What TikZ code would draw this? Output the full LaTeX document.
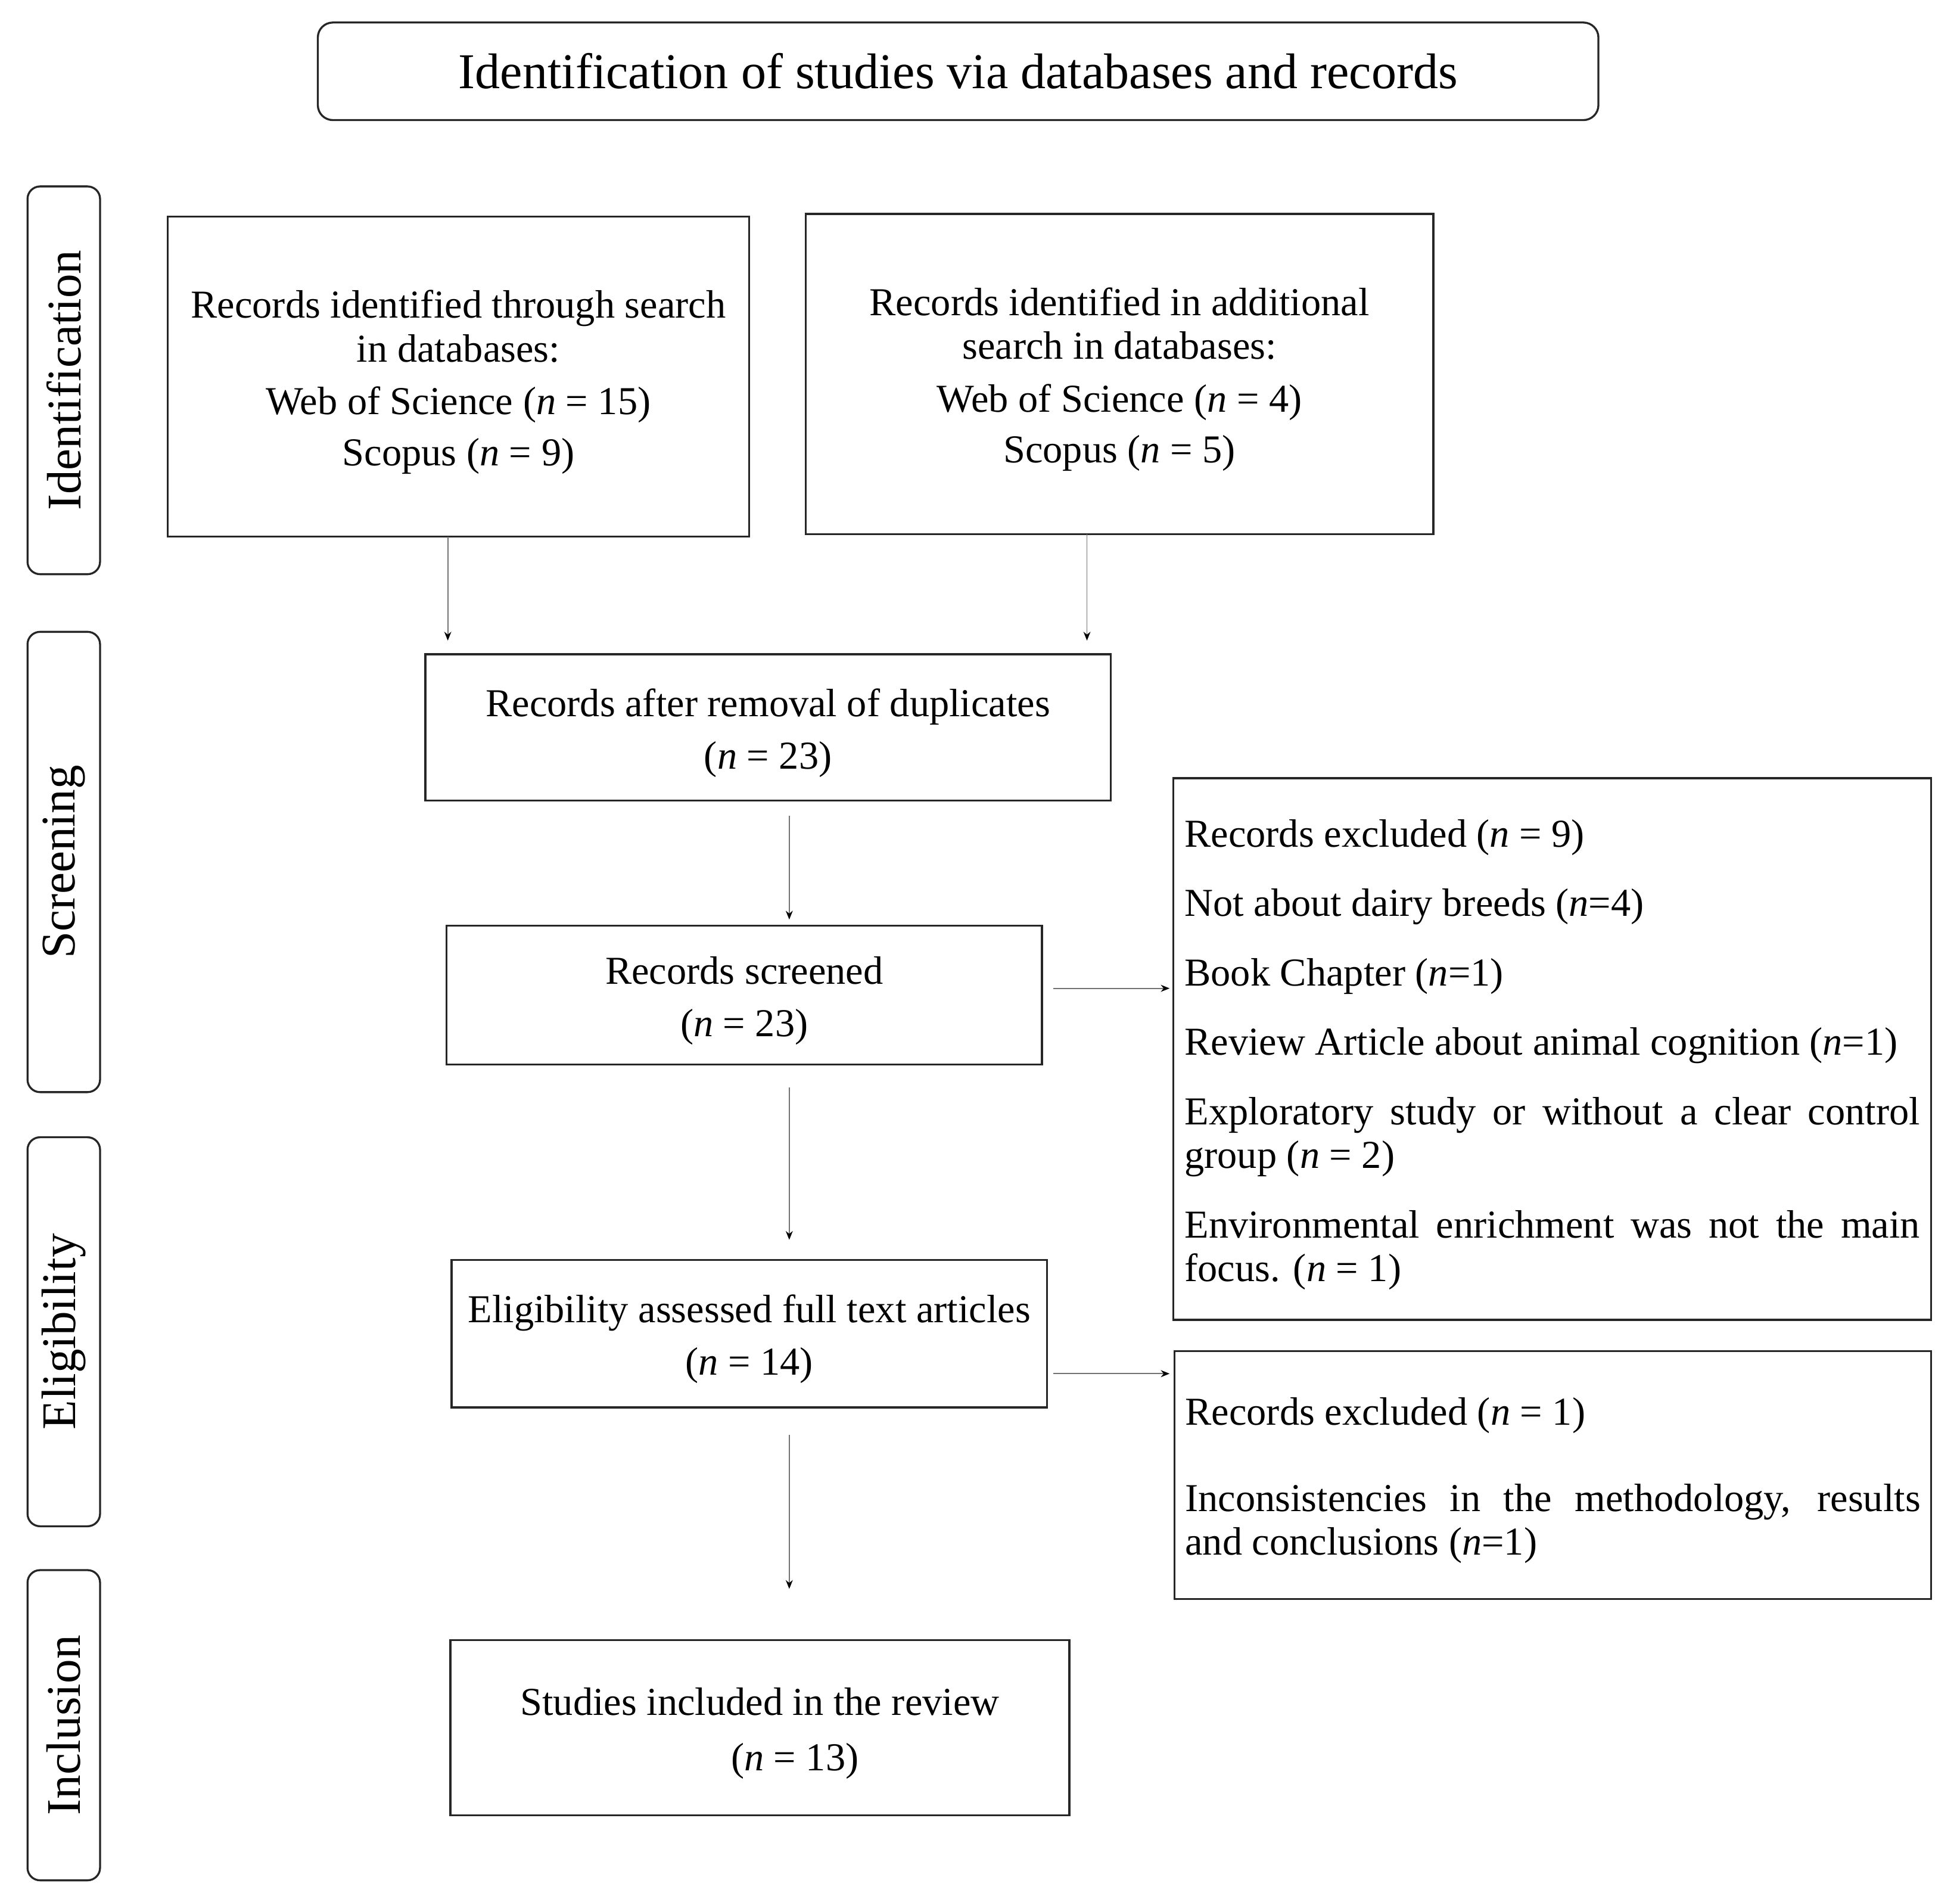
\documentclass[tikz,border=0pt]{standalone}
\usepackage{fontspec}
\setmainfont{Liberation Serif}
\usetikzlibrary{arrows.meta,calc}
\newcommand\tstrut{\rule{0pt}{0.62cm}}
\begin{document}
\begin{tikzpicture}[x=0.02cm,y=-0.02cm,
  box/.style={draw=black!85,line width=0.9pt,inner sep=0pt,outer sep=0pt,align=center,
    font=\fontsize{18}{19.9}\selectfont},
  listbox/.style={draw=black!85,line width=0.9pt,inner ysep=0pt,outer sep=0pt,align=justify,
    text width=11.76cm,font=\fontsize{18}{19.9}\selectfont},
  sidebox/.style={draw=black!85,line width=0.9pt,rounded corners=0.2cm,minimum height=1.16cm,
    inner sep=0pt,outer sep=0pt,rotate=90,font=\fontsize{22}{26}\selectfont},
  titlebox/.style={draw=black!85,line width=0.9pt,rounded corners=0.24cm,inner sep=0pt,outer sep=0pt,
    font=\fontsize{22.8}{27}\selectfont},
  arr/.style={draw=black!55,line width=0.5pt,-{Stealth[length=4pt,width=3.2pt,color=black]}}]
\useasboundingbox (0,0) rectangle (1567,1520);

% title
\node[titlebox,minimum width=20.48cm,minimum height=1.56cm] (T) at (766,57)
  {Identification of studies via databases and records};

% side labels
\node[sidebox,minimum width=6.2cm] (S1) at (51,304) {Identification};
\node[sidebox,minimum width=7.36cm] (S2) at (51,689) {Screening};
\node[sidebox,minimum width=6.22cm] (S3) at (51,1064.5) {Eligibility};
\node[sidebox,minimum width=4.96cm] (S4) at (51,1379) {Inclusion};

% boxes
\node[box,minimum width=9.3cm,minimum height=5.12cm] (A) at (366.5,301)
  {\tstrut Records identified through search\\ in databases:\\[4pt]
   Web of Science (\textit{n} = 15)\\[3.4pt] Scopus (\textit{n} = 9)};
\node[box,minimum width=10.04cm,minimum height=5.12cm] (B) at (895,299)
  {\tstrut Records identified in additional\\ search in databases:\\[4pt]
   Web of Science (\textit{n} = 4)\\[3.4pt] Scopus (\textit{n} = 5)};
\node[box,minimum width=10.96cm,minimum height=2.34cm] (C) at (614,581.5)
  {\tstrut Records after removal of duplicates\\[4pt] (\textit{n} = 23)};
\node[box,minimum width=9.52cm,minimum height=2.22cm] (D) at (595,795.5)
  {\tstrut Records screened\\[4pt] (\textit{n} = 23)};
\node[listbox,inner xsep=0.18cm,minimum height=8.66cm] (E) at (1241,838.5)
  {\setlength{\parskip}{11.7pt}\tstrut Records excluded (\textit{n} = 9)\par
   Not about dairy breeds (\textit{n}=4)\par
   Book Chapter (\textit{n}=1)\par
   Review Article about animal cognition (\textit{n}=1)\par
   Exploratory study or without a clear control\linebreak group (\textit{n} = 2)\par
   Environmental enrichment was not the main\linebreak focus. (\textit{n} = 1)};
\node[box,minimum width=9.52cm,minimum height=2.36cm] (F) at (599,1066)
  {\tstrut Eligibility assessed full text articles\\[4pt] (\textit{n} = 14)};
\node[listbox,inner xsep=0.17cm,minimum height=3.96cm] (G) at (1241.5,1179)
  {\setlength{\parskip}{19.3pt}\tstrut Records excluded (\textit{n} = 1)\par
   Inconsistencies in the methodology, results\linebreak and conclusions (\textit{n}=1)};
\node[box,minimum width=9.9cm,minimum height=2.8cm] (H) at (607.5,1381)
  {\tstrut Studies included in the review\\[5.5pt] \hspace*{1.12cm}(\textit{n} = 13)};

% connectors
\coordinate (a1) at ($(A.south)+(-8.5,0)$);
\draw[arr,shorten >=0.22cm] (a1) -- (a1 |- C.north);
\coordinate (b1) at ($(B.south)+(-26,0)$);
\draw[arr,shorten >=0.22cm] (b1) -- (b1 |- C.north);
\coordinate (c1) at ($(C.south)+(17,0)$);
\draw[arr,shorten <=0.24cm,shorten >=0.1cm] (c1) -- (c1 |- D.north);
\coordinate (d1) at ($(D.east)+(0,-5.5)$);
\draw[arr,shorten <=0.18cm,shorten >=0.06cm] (d1) -- (d1 -| E.west);
\coordinate (d2) at ($(D.south)+(36,0)$);
\draw[arr,shorten <=0.36cm,shorten >=0.32cm] (d2) -- (d2 |- F.north);
\coordinate (f1) at ($(F.east)+(0,32)$);
\draw[arr,shorten <=0.1cm,shorten >=0.08cm] (f1) -- (f1 -| G.west);
\coordinate (f2) at ($(F.south)+(32,0)$);
\draw[arr,shorten <=0.44cm,shorten >=0.82cm] (f2) -- (f2 |- H.north);
\end{tikzpicture}
\end{document}
